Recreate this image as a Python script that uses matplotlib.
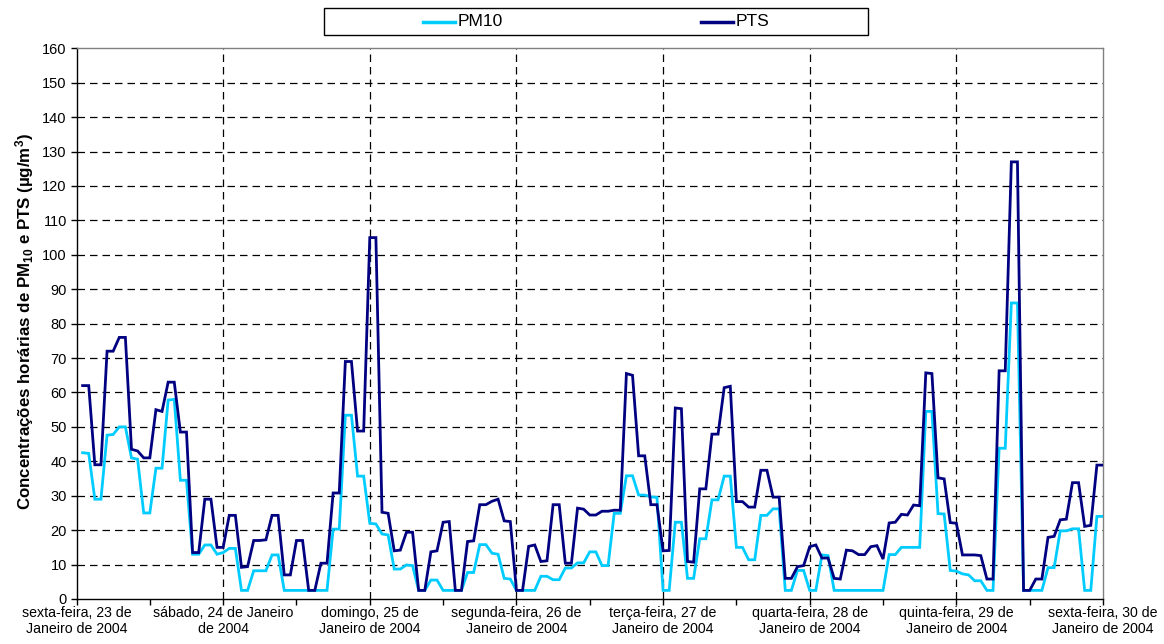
import matplotlib
matplotlib.use("Agg")
import matplotlib.pyplot as plt
from matplotlib.lines import Line2D
from matplotlib.patches import Rectangle
import numpy as np

plt.rcParams['font.family'] = ['Liberation Sans', 'DejaVu Sans']
plt.rcParams['mathtext.default'] = 'regular'

# Hourly concentrations (hour 1 .. 168 starting Fri 23 Jan 2004 00:00)
pts = [
    62, 62, 39, 39, 72, 72, 76, 76, 43.5, 43, 41, 41, 55, 54.5, 63, 63, 48.5, 48.5, 13.5, 13.5, 29, 29, 15, 15,
    24.3, 24.3, 9.2, 9.4, 17, 17, 17.2, 24.3, 24.3, 7, 7, 17, 17, 2.5, 2.5, 10.4, 10.4, 30.8, 30.8, 69, 69, 48.8, 48.8, 105,
    105, 25.2, 24.9, 14, 14.2, 19.4, 19.4, 2.5, 2.5, 13.7, 14, 22.3, 22.5, 2.5, 2.5, 16.7, 16.9, 27.4, 27.4, 28.4, 29, 22.7, 22.5, 2.5,
    2.5, 15.3, 15.7, 10.9, 11.1, 27.4, 27.4, 10.4, 10.4, 26.4, 26.1, 24.4, 24.4, 25.5, 25.5, 25.8, 25.8, 65.5, 65, 41.6, 41.6, 27.4, 27.4, 14,
    14.1, 55.5, 55.3, 10.9, 10.7, 32, 32, 47.9, 47.9, 61.4, 61.8, 28.3, 28.3, 26.7, 26.7, 37.4, 37.4, 29.6, 29.6, 6, 6, 9.4, 9.7, 15.2,
    15.7, 11.9, 11.9, 6, 5.8, 14.2, 14, 12.9, 12.9, 15.2, 15.5, 11.6, 22.1, 22.3, 24.6, 24.4, 27.3, 27.1, 65.7, 65.5, 35.2, 34.9, 22.2, 22,
    12.8, 12.8, 12.8, 12.6, 5.8, 5.8, 66.3, 66.3, 127, 127, 2.5, 2.5, 5.8, 5.8, 17.9, 18.2, 23, 23.2, 33.8, 33.8, 21.1, 21.4, 38.9, 38.9,
]

pm10 = [
    42.5, 42.3, 29, 29, 47.6, 47.8, 50, 50, 41, 40.6, 25, 25, 38, 38, 57.8, 58, 34.5, 34.5, 13, 13, 15.7, 15.7, 13, 13.5,
    14.7, 14.7, 2.5, 2.5, 8.2, 8.2, 8.2, 12.8, 12.8, 2.5, 2.5, 2.5, 2.5, 2.5, 2.5, 2.5, 2.5, 20.3, 20.3, 53.4, 53.4, 35.7, 35.7, 22,
    21.8, 18.9, 18.6, 8.7, 8.7, 9.9, 9.7, 2.5, 2.5, 5.5, 5.5, 2.5, 2.5, 2.5, 2.5, 7.7, 7.7, 15.8, 15.8, 13.3, 13, 6, 5.8, 2.5,
    2.5, 2.5, 2.5, 6.6, 6.6, 5.6, 5.6, 9, 9, 10.5, 10.5, 13.7, 13.7, 9.7, 9.7, 24.9, 24.9, 35.8, 35.8, 30.2, 30.2, 29.7, 29.5, 2.5,
    2.5, 22.3, 22.3, 6, 6, 17.5, 17.5, 28.8, 28.8, 35.7, 35.7, 15, 15, 11.4, 11.4, 24.3, 24.3, 26.2, 26.2, 2.5, 2.5, 8.3, 8.3, 2.5,
    2.5, 12.8, 12.6, 2.5, 2.5, 2.5, 2.5, 2.5, 2.5, 2.5, 2.5, 2.5, 12.9, 12.9, 15, 15, 15, 15, 54.5, 54.5, 24.8, 24.7, 8.3, 8.1,
    7.3, 7, 5.3, 5.3, 2.5, 2.5, 43.8, 43.8, 86, 86, 2.5, 2.5, 2.5, 2.5, 9.1, 9.1, 19.8, 19.8, 20.4, 20.4, 2.5, 2.5, 24, 24,
]

series_names = ['PM10', 'PTS']

day_labels = [
    "sexta-feira, 23 de\nJaneiro de 2004",
    "sábado, 24 de Janeiro\nde 2004",
    "domingo, 25 de\nJaneiro de 2004",
    "segunda-feira, 26 de\nJaneiro de 2004",
    "terça-feira, 27 de\nJaneiro de 2004",
    "quarta-feira, 28 de\nJaneiro de 2004",
    "quinta-feira, 29 de\nJaneiro de 2004",
    "sexta-feira, 30 de\nJaneiro de 2004",
]

W, H = 1164, 644
hours = np.arange(1, len(pts) + 1)
x = hours / 24.0

fig = plt.figure(figsize=(W / 100, H / 100), dpi=100)
ax = fig.add_axes([76.5 / W, 1 - 599 / H, (1103 - 76.5) / W, (599 - 48.3) / H])

c_pm = '#00CCFF'
c_pts = '#000080'
ax.plot(x, pm10, color=c_pm, lw=2.0, solid_joinstyle='miter', zorder=3)
ax.plot(x, pts, color=c_pts, lw=2.0, solid_joinstyle='miter', zorder=4)

ax.set_xlim(0, 7)
ax.set_ylim(0, 160)
ax.set_yticks(np.arange(0, 161, 10))
ax.set_xticks(np.arange(0, 8, 1))
ax.set_xticklabels(day_labels)
ax.set_xticks(np.arange(0.5, 7, 1), minor=True)

ax.tick_params(axis='both', which='both', direction='out', length=4, width=1, color='black')
ax.tick_params(axis='x', which='major', pad=1, labelsize=10.2)
ax.tick_params(axis='y', pad=3, labelsize=10.5)

for v in range(10, 160, 10):
    ax.axhline(v, color='black', lw=0.9, dashes=(6, 4), zorder=1)
for d in range(1, 7):
    ax.axvline(d, color='black', lw=0.9, dashes=(6, 4), zorder=1)

ax.spines['left'].set_color('black')
ax.spines['bottom'].set_color('black')
ax.spines['top'].set_color('#808080')
ax.spines['right'].set_color('#808080')
for s in ax.spines.values():
    s.set_linewidth(1.0)

fig.text(25 / W, 1 - 322 / H, 'Concentrações horárias de PM$_{10}$ e PTS (µg/m$^{3}$)',
         rotation=90, ha='center', va='center', fontsize=12.2, fontweight='bold')

# Legend drawn as a framed box with two centred entries
def fx(px):
    return px / W

def fy(py):
    return 1 - py / H

fig.patches.append(Rectangle((fx(323.5), fy(35)), fx(867.5) - fx(323.5), fy(7.7) - fy(35),
                             transform=fig.transFigure, facecolor='white', edgecolor='black', lw=1.0))
ly = 21.5
for name, col, x0 in [(series_names[0], c_pm, 423), (series_names[1], c_pts, 701)]:
    fig.lines.append(Line2D([fx(x0), fx(x0 + 32)], [fy(ly), fy(ly)], transform=fig.transFigure,
                            color=col, lw=2.5))
    fig.text(fx(x0 + 35), fy(ly), name, ha='left', va='center', fontsize=12.5)

fig.savefig('out.png', dpi=100)
